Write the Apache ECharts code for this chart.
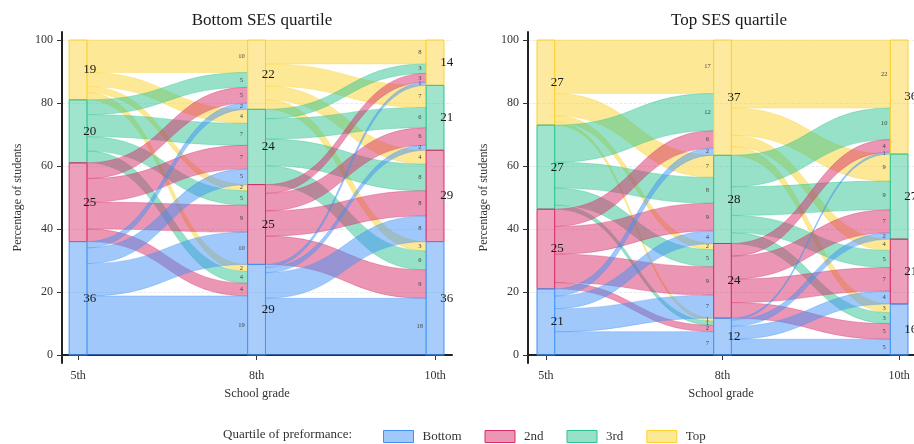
<!DOCTYPE html>
<html>
<head>
<meta charset="utf-8">
<title>SES alluvial</title>
<script src="https://cdn.jsdelivr.net/npm/echarts@6/dist/echarts.min.js"></script>
<style>
html, body { margin: 0; padding: 0; background: #fff; }
#main { width: 914px; height: 444px; }
</style>
</head>
<body>
<div id="main"></div>
<script>
// school grades on the x axis
var grades = ['5th', '8th', '10th'];
// performance quartiles, stacked from the top down
var quartiles = ['Top', '3rd', '2nd', 'Bottom'];
var quartileColors = ['#fbd12d', '#2dc391', '#d72d69', '#4191f5'];
var legendOrder = ['Bottom', '2nd', '3rd', 'Top'];
var yTicks = [0, 20, 40, 60, 80, 100];

// flows in % of students: row = quartile before, column = quartile after (Top, 3rd, 2nd, Bottom)
var bottomSES_5to8 = [
	[10.3, 4.45, 2, 2.25],
	[4.7, 7, 4.55, 3.75],
	[5, 7.45, 8.55, 4],
	[2, 5, 10.25, 18.75]
];
var bottomSES_8to10 = [
	[7.6, 7, 4.4, 3],
	[3, 6.45, 8.45, 6],
	[2.8, 5.55, 8, 9],
	[1, 1.6, 8.15, 18]
];
var topSES_5to8 = [
	[17, 7, 2, 1],
	[11.8, 8.2, 5.4, 1.3],
	[5.5, 8.8, 9, 2],
	[2.3, 4, 7.3, 7.4]
];
var topSES_8to10 = [
	[21.6, 8.6, 3.6, 2.8],
	[10, 9.1, 5.45, 3.45],
	[4, 7.3, 7.45, 4.95],
	[0.6, 2, 4.1, 5]
];

var panelTitles = ['Bottom SES quartile', 'Top SES quartile'];
var panelFlows = [[bottomSES_5to8, bottomSES_8to10], [topSES_5to8, topSES_8to10]];

var FONT = 'Liberation Serif';
var HALF = 0.05; // half width of a stratum box
var X_MIN = [0.91, 0.899]; // x axis start of each panel

function rgba(hex, a) {
	var n = parseInt(hex.slice(1), 16);
	return 'rgba(' + (n >> 16) + ',' + ((n >> 8) & 255) + ',' + (n & 255) + ',' + a + ')';
}

// stratum sizes per grade, from the flow tables
function strataSizes(flows) {
	var rows = [], c1 = [0, 0, 0, 0], c2 = [0, 0, 0, 0];
	for (var i = 0; i < 4; i++) {
		rows.push(flows[0][i].reduce(function (s, v) { return s + v; }, 0));
		for (var j = 0; j < 4; j++) {
			c1[j] += flows[0][i][j];
			c2[j] += flows[1][i][j];
		}
	}
	return [rows, c1, c2];
}

// builds the data items for flows, strata and labels of one panel
function buildPanel(flows) {
	var sizes = strataSizes(flows);
	var tops = sizes.map(function (s) {
		var t = [], acc = 0;
		for (var q = 3; q >= 0; q--) { acc += s[q]; t[q] = acc; }
		return t;
	});
	var flowItems = [[], [], [], []], strata = [], labels = [];
	for (var g = 0; g < 3; g++) {
		for (var q = 0; q < 4; q++) {
			strata.push([g + 1, tops[g][q] - sizes[g][q], tops[g][q], q]);
			labels.push([g + 1 + 0.065, tops[g][q] - sizes[g][q] / 2, Math.round(sizes[g][q]), 13]);
		}
	}
	for (var t = 0; t < 2; t++) {
		var M = flows[t];
		for (var i = 0; i < 4; i++) {
			for (var j = 0; j < 4; j++) {
				var v = M[i][j], outTop = tops[t][i], inTop = tops[t + 1][j];
				for (var k = 0; k < j; k++) outTop -= M[i][k];
				for (k = 0; k < i; k++) inTop -= M[k][j];
				flowItems[i].push([t + 1 + HALF, t + 2 - HALF, outTop, outTop - v, inTop, inTop - v, i]);
				labels.push([t + 2 - 0.085, inTop - v / 2, Math.round(v), 6.5]);
			}
		}
	}
	return { flows: flowItems, strata: strata, labels: labels };
}

function renderFlow(params, api) {
	var x0 = api.value(0), x1 = api.value(1);
	var a = api.coord([x0, api.value(2)]);
	var b = api.coord([x0, api.value(3)]);
	var c = api.coord([x1, api.value(4)]);
	var d = api.coord([x1, api.value(5)]);
	var mx = (a[0] + c[0]) / 2;
	var path = 'M' + a[0] + ' ' + a[1] +
		' C' + mx + ' ' + a[1] + ' ' + mx + ' ' + c[1] + ' ' + c[0] + ' ' + c[1] +
		' L' + d[0] + ' ' + d[1] +
		' C' + mx + ' ' + d[1] + ' ' + mx + ' ' + b[1] + ' ' + b[0] + ' ' + b[1] + ' Z';
	var col = quartileColors[api.value(6)];
	return {
		type: 'path',
		shape: { pathData: path },
		style: { fill: rgba(col, 0.5), stroke: rgba(col, 0.55), lineWidth: 0.6 }
	};
}

function renderStratum(params, api) {
	var p0 = api.coord([api.value(0) - HALF, api.value(2)]);
	var p1 = api.coord([api.value(0) + HALF, api.value(1)]);
	var col = quartileColors[api.value(3)];
	return {
		type: 'rect',
		shape: { x: p0[0], y: p0[1], width: p1[0] - p0[0], height: p1[1] - p0[1] },
		style: { fill: rgba(col, 0.45), stroke: col, lineWidth: 1 }
	};
}

function renderLabel(params, api) {
	var p = api.coord([api.value(0), api.value(1)]);
	var size = api.value(3);
	return {
		type: 'text',
		x: p[0], y: p[1],
		style: {
			text: String(api.value(2)),
			fontFamily: FONT, fontSize: size,
			fill: size > 8 ? '#1a1a1a' : '#444',
			align: 'center', verticalAlign: 'middle'
		}
	};
}

var grids = [], xAxes = [], yAxes = [], titles = [], series = [];
for (var p = 0; p < 2; p++) {
	grids.push({ left: 62 + p * 466, top: 32, width: 390, height: 331 });
	titles.push({
		text: panelTitles[p], left: 257 + p * 467, top: 7, textAlign: 'center',
		textStyle: { fontFamily: FONT, fontSize: 17, fontWeight: 'normal', color: '#1a1a1a' }
	});
	xAxes.push({
		gridIndex: p, type: 'value', min: X_MIN[p], max: X_MIN[p] + 2.185,
		name: 'School grade', nameLocation: 'middle', nameGap: 23,
		nameTextStyle: { fontFamily: FONT, fontSize: 12.5, color: '#333' },
		axisLine: { lineStyle: { color: '#222', width: 2 } },
		axisTick: { customValues: [1, 2, 3], length: 5, lineStyle: { color: '#333' } },
		axisLabel: {
			customValues: [1, 2, 3], fontFamily: FONT, fontSize: 12, color: '#333', margin: 7,
			formatter: function (v) { return grades[Math.round(v) - 1]; }
		},
		splitLine: { show: false }
	});
	yAxes.push({
		gridIndex: p, type: 'value', min: -2.54, max: 102.54,
		name: 'Percentage of students', nameLocation: 'middle', nameGap: 38,
		nameTextStyle: { fontFamily: FONT, fontSize: 12, color: '#333' },
		axisLine: { show: true, lineStyle: { color: '#222', width: 2 } },
		axisTick: { show: true, customValues: yTicks, length: 5, lineStyle: { color: '#333' } },
		axisLabel: { customValues: yTicks, fontFamily: FONT, fontSize: 12, color: '#333', margin: 9 },
		splitLine: { show: true, lineStyle: { color: '#e6e6e6', type: 'dashed', width: 0.8 } }
	});

	var built = buildPanel(panelFlows[p]);
	for (var q = 0; q < 4; q++) {
		series.push({
			name: quartiles[q], type: 'custom', xAxisIndex: p, yAxisIndex: p,
			renderItem: renderFlow, data: built.flows[q],
			encode: { x: [0, 1], y: [2, 3, 4, 5] }, silent: true
		});
	}
	series.push({
		name: 'strata', type: 'custom', xAxisIndex: p, yAxisIndex: p,
		renderItem: renderStratum, data: built.strata,
		encode: { x: 0, y: [1, 2] }, silent: true
	});
	series.push({
		name: 'labels', type: 'custom', xAxisIndex: p, yAxisIndex: p,
		renderItem: renderLabel, data: built.labels,
		encode: { x: 0, y: 1 }, silent: true, z: 5
	});
}

var myChart = echarts.init(document.getElementById('main'));
var option = {
	animation: false,
	backgroundColor: '#fff',
	title: titles,
	grid: grids,
	xAxis: xAxes,
	yAxis: yAxes,
	legend: {
		left: 383, top: 430, padding: 0, icon: 'rect',
		itemWidth: 30, itemHeight: 12, itemGap: 23, selectedMode: false,
		textStyle: { fontFamily: FONT, fontSize: 13, color: '#333', padding: [0, 0, 0, 4] },
		data: legendOrder.map(function (name) {
			var col = quartileColors[quartiles.indexOf(name)];
			return { name: name, itemStyle: { color: rgba(col, 0.5), borderColor: col, borderWidth: 1 } };
		})
	},
	graphic: [{
		type: 'text', left: 223, top: 428,
		style: { text: 'Quartile of preformance:', fontFamily: FONT, fontSize: 13, fill: '#333' }
	}],
	series: series
};
myChart.setOption(option);
</script>
</body>
</html>
